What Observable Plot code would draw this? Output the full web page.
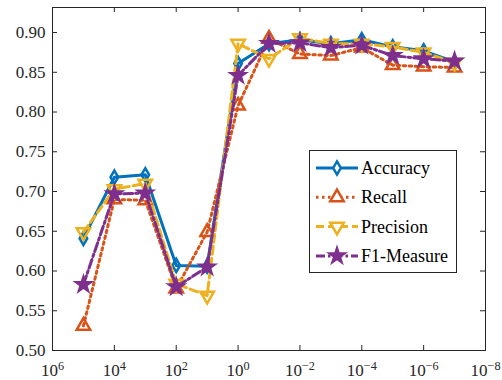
<!DOCTYPE html>
<html><head><meta charset="utf-8">
<script src="https://cdn.jsdelivr.net/npm/d3@7"></script>
<script src="https://cdn.jsdelivr.net/npm/@observablehq/plot@0.6"></script>
<style>
body{margin:0;background:#fff;}
#wrap{position:relative;width:502px;height:380px;}
#legend{position:absolute;left:309px;top:150px;}
</style></head><body><div id="wrap"></div>
<script>
// Data
const lambdas   = [1e5, 1e4, 1e3, 1e2, 1e1, 1e0, 1e-1, 1e-2, 1e-3, 1e-4, 1e-5, 1e-6, 1e-7];
const accuracy  = [0.641, 0.718, 0.721, 0.607, 0.606, 0.861, 0.886, 0.891, 0.886, 0.891, 0.882, 0.877, 0.863];
const recall    = [0.531, 0.690, 0.689, 0.578, 0.649, 0.808, 0.892, 0.873, 0.871, 0.881, 0.859, 0.857, 0.856];
const precision = [0.649, 0.703, 0.710, 0.584, 0.569, 0.886, 0.867, 0.893, 0.886, 0.886, 0.882, 0.875, 0.862];
const f1        = [0.583, 0.697, 0.698, 0.580, 0.605, 0.846, 0.886, 0.887, 0.881, 0.884, 0.871, 0.867, 0.864];
const seriesNames = ["Accuracy", "Recall", "Precision", "F1-Measure"];
const xTicks = [1e6, 1e4, 1e2, 1e0, 1e-2, 1e-4, 1e-6, 1e-8];
const yTicks = [0.50, 0.55, 0.60, 0.65, 0.70, 0.75, 0.80, 0.85, 0.90];

// pick an installed serif font
function hasFont(name) {
  const c = document.createElement("canvas").getContext("2d");
  const s = "Accuracy 0.90 F1-Measure Wwmil";
  return ["monospace", "sans-serif"].some(fb => {
    c.font = "40px " + fb; const w0 = c.measureText(s).width;
    c.font = `40px '${name}', ${fb}`; const w1 = c.measureText(s).width;
    return Math.abs(w0 - w1) > 0.5;
  });
}
const candidates = ["Liberation Serif", "DejaVu Serif", "Noto Serif", "Tinos", "Times New Roman", "Times", "FreeSerif", "Georgia"];
const found = candidates.find(hasFont);
const font = found ? `'${found}', serif` : "serif";

const W = 502, H = 380, mL = 52, mR = 17, mT = 7, mB = 30;
const pw = W - mL - mR, ph = H - mT - mB;
const axisColor = "#262626";

const styles = [
  {values: accuracy,  color: "#0072BD", dash: null,        symbol: "diamond",  r: 4,   rotate: 0,   filled: false},
  {values: recall,    color: "#D95319", dash: "2.5,3.5",   symbol: "triangle", r: 5,   rotate: 0,   filled: false},
  {values: precision, color: "#EDB120", dash: "8,4",       symbol: "triangle", r: 5,   rotate: 180, filled: false},
  {values: f1,        color: "#7E2F8E", dash: "9,3,2.5,3", symbol: "star",     r: 4.5, rotate: 0,   filled: true}
];

const marks = [];
styles.forEach((s, i) => {
  const data = lambdas.map((x, j) => ({x, y: s.values[j], series: seriesNames[i]}));
  marks.push(Plot.line(data, {x: "x", y: "y", stroke: s.color, strokeWidth: 3, strokeDasharray: s.dash}));
  marks.push(Plot.dot(data, {x: "x", y: "y", symbol: s.symbol, r: s.r, rotate: s.rotate,
    stroke: s.color, strokeWidth: 2.5, fill: s.filled ? s.color : "none"}));
});

const chart = Plot.plot({
  width: W, height: H,
  marginLeft: mL, marginRight: mR, marginTop: mT, marginBottom: mB,
  style: {fontFamily: font, fontSize: "17px", color: axisColor, background: "#fff"},
  x: {type: "log", domain: [1e6, 1e-8], label: null},
  y: {domain: [0.5, 0.9315], label: null},
  marks: [
    ...marks,
    Plot.frame({stroke: axisColor, strokeWidth: 1}),
    Plot.tickX(xTicks, {x: d => d, insetTop: ph - 5, stroke: axisColor}),
    Plot.tickX(xTicks, {x: d => d, insetBottom: ph - 5, stroke: axisColor}),
    Plot.tickY(yTicks, {y: d => d, insetRight: pw - 5, stroke: axisColor}),
    Plot.tickY(yTicks, {y: d => d, insetLeft: pw - 5, stroke: axisColor}),
    Plot.axisY({ticks: yTicks, tickSize: 0, tickPadding: 7, tickFormat: d3.format(".2f"), label: null}),
    Plot.axisX({ticks: xTicks, tickSize: 0, tickPadding: 13, label: null,
      tickFormat: d => "10^" + Math.round(Math.log10(d))})
  ]
});

// superscript exponents
chart.querySelectorAll('g[aria-label="x-axis tick label"] text').forEach(t => {
  const parts = t.textContent.split("^");
  if (parts.length !== 2) return;
  t.textContent = parts[0];
  const ts = document.createElementNS("http://www.w3.org/2000/svg", "tspan");
  ts.setAttribute("dy", "-0.45em");
  ts.setAttribute("font-size", "0.72em");
  ts.textContent = parts[1].replace("-", "\u2212");
  t.appendChild(ts);
});
chart.querySelectorAll("text").forEach(t => t.style.fontFamily = font);

const wrap = document.getElementById("wrap");
wrap.appendChild(chart);

// Legend
const lw = 148, lh = 123;
const leg = d3.create("svg").attr("id", "legend").attr("width", lw).attr("height", lh);
leg.append("rect").attr("x", 0.5).attr("y", 0.5).attr("width", lw - 1).attr("height", lh - 1)
  .attr("fill", "#fff").attr("stroke", axisColor).attr("stroke-width", 1);
const symMap = {diamond: d3.symbolDiamond, triangle: d3.symbolTriangle, star: d3.symbolStar};
styles.forEach((s, i) => {
  const cy = 18 + i * 29.3;
  const g = leg.append("g");
  g.append("line").attr("x1", 7).attr("x2", 49).attr("y1", cy).attr("y2", cy)
    .attr("stroke", s.color).attr("stroke-width", 3).attr("stroke-dasharray", s.dash);
  g.append("path").attr("d", d3.symbol(symMap[s.symbol], Math.PI * s.r * s.r)())
    .attr("transform", `translate(28,${cy}) rotate(${s.rotate})`)
    .attr("stroke", s.color).attr("stroke-width", 2.5).attr("fill", s.filled ? s.color : "#fff");
  g.append("text").attr("x", 52).attr("y", cy + 6).text(seriesNames[i])
    .style("font-family", font).attr("font-size", "18px").attr("fill", "#000");
});
wrap.appendChild(leg.node());
</script></body></html>
